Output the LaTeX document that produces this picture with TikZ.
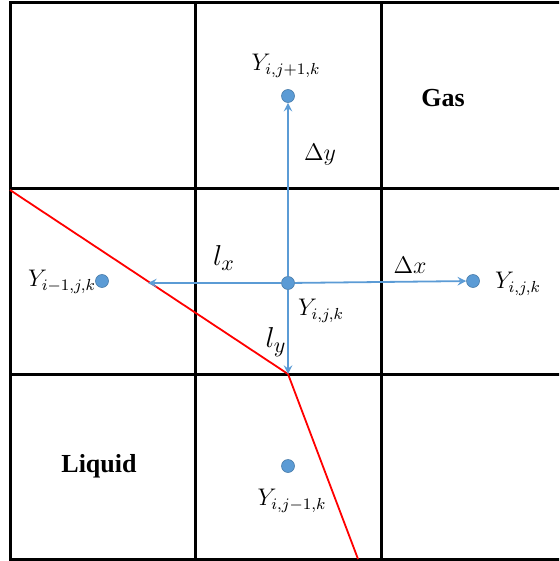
\documentclass[tikz,border=0pt]{standalone}
\usepackage{fontspec}
\setmainfont{Liberation Serif}
\usepackage{xcolor}
\definecolor{dotblue}{HTML}{5B9BD5}

\begin{document}
\begin{tikzpicture}[>=stealth, x=0.5pt, y=-0.5pt,
  grid/.style={line width=1.5pt},
  cell/.style={circle, fill=dotblue, draw=dotblue!80!black, line width=0.3pt, inner sep=0pt, minimum size=6.5pt},
  arr/.style={->, draw=dotblue, line width=0.9pt},
  iface/.style={red, line width=0.9pt},
  lab/.style={font=\fontsize{12}{14}\selectfont},
  big/.style={font=\fontsize{13}{15}\selectfont\bfseries}]
  \clip (0,0) rectangle (559,561);
  \useasboundingbox (0,0) rectangle (559,561);

  % mesh
  \draw[grid] (10,3) rectangle (567,559);
  \draw[grid] (195,3) -- (195,559);
  \draw[grid] (381,3) -- (381,559);
  \draw[grid] (10,189) -- (567,189);
  \draw[grid] (10,374) -- (567,374);

  % interface
  \coordinate (kink) at (288,374);
  \coordinate (west) at (148,283);
  \draw[iface] (10,190) -- (kink) -- (358,559);

  % cell centres
  \node[cell] (c) at (288,283) {};
  \node[cell] (t) at (288,96) {};
  \node[cell] (r) at (473,281) {};
  \node[cell] (l) at (102,281) {};
  \node[cell] (b) at (288,466) {};

  \draw[arr] (c) -- (t);
  \draw[arr] (c) -- (r);
  \draw[arr] (c) -- (west);
  \draw[arr] (c) -- (kink);

  % labels
  \node[lab] (lt) at (286,66) {$Y_{i,j+1,k}$};
  \node[lab] (lr) at (518,284) {$Y_{i,j,k}$};
  \node[lab] (ll) at (62,282) {$Y_{i-1,j,k}$};
  \node[lab] (lc) at (321,311) {$Y_{i,j,k}$};
  \node[lab] (lb) at (292,501) {$Y_{i,j-1,k}$};
  \node[lab] (dy) at (320,155) {$\Delta y$};
  \node[lab] (dx) at (410,265) {$\Delta x$};
  \node[font=\fontsize{15}{17}\selectfont] (lxl) at (224,258) {$l_x$};
  \node[font=\fontsize{15}{17}\selectfont] (lyl) at (276,342) {$l_y$};
  \node[big] (gas) at (443,98) {Gas};
  \node[big] (liq) at (99,466) {Liquid};
\end{tikzpicture}
\end{document}
